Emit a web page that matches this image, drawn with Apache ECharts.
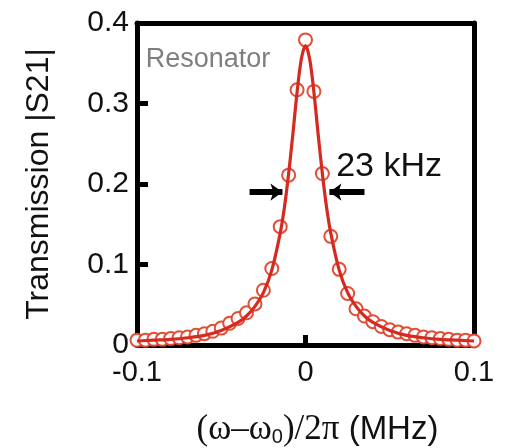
<!DOCTYPE html>
<html>
<head>
<meta charset="utf-8">
<script src="https://cdn.jsdelivr.net/npm/echarts@6/dist/echarts.min.js"></script>
<style>
  html, body { margin: 0; padding: 0; background: #fff; }
  #chart { width: 506px; height: 448px; }
</style>
</head>
<body>
<div id="chart"></div>
<script>
// Measured transmission of the resonator, detuning in MHz (5 kHz steps)
const detuning = [
  -0.100, -0.095, -0.090, -0.085, -0.080, -0.075, -0.070, -0.065, -0.060, -0.055,
  -0.050, -0.045, -0.040, -0.035, -0.030, -0.025, -0.020, -0.015, -0.010, -0.005,
   0.000,
   0.005,  0.010,  0.015,  0.020,  0.025,  0.030,  0.035,  0.040,  0.045,  0.050,
   0.055,  0.060,  0.065,  0.070,  0.075,  0.080,  0.085,  0.090,  0.095,  0.100
];
const measured = [
  0.006, 0.006, 0.007, 0.007, 0.008, 0.009, 0.010, 0.012, 0.014, 0.017,
  0.021, 0.027, 0.033, 0.040, 0.051, 0.068, 0.095, 0.147, 0.211, 0.317,
  0.379,
  0.315, 0.213, 0.135, 0.094, 0.064, 0.045, 0.036, 0.029, 0.023, 0.019,
  0.016, 0.014, 0.012, 0.010, 0.009, 0.008, 0.007, 0.006, 0.006, 0.005
];

// Lorentzian fit curve
const fitDetuning = [
  -0.100, -0.090, -0.080, -0.070, -0.060, -0.050, -0.040, -0.035, -0.030, -0.025,
  -0.020, -0.015, -0.0125, -0.010, -0.0075, -0.005, -0.0025, 0.000,
   0.0025, 0.005, 0.0075, 0.010, 0.0125, 0.015, 0.020, 0.025, 0.030, 0.035,
   0.040, 0.050, 0.060, 0.070, 0.080, 0.090, 0.100
];
const fitValues = [
  0.005, 0.006, 0.007, 0.009, 0.012, 0.018, 0.028, 0.036, 0.048, 0.065,
  0.093, 0.139, 0.171, 0.213, 0.262, 0.314, 0.355, 0.372,
  0.355, 0.314, 0.262, 0.213, 0.171, 0.139, 0.093, 0.065, 0.048, 0.036,
  0.028, 0.018, 0.012, 0.009, 0.007, 0.006, 0.005
];

// Tick labels
const xTickLabels = { '-0.1': '-0.1', '0': '0', '0.1': '0.1' };
const yTickLabels = ['0', '0.1', '0.2', '0.3', '0.4'];

// Linewidth markers (FWHM arrows) and annotations
const widthLevel = 0.19;
const leftArrow = [-0.0332, -0.0137];
const rightArrow = [0.0350, 0.0142];
const widthText = '23 kHz';
const widthTextAt = [0.0182, 0.222];
const titleText = 'Resonator';
const titleTextAt = [-0.0948, 0.354];

const SANS = '"Liberation Sans", Arial, sans-serif';
const SERIF = '"Liberation Serif", "Times New Roman", serif';

const chart = echarts.init(document.getElementById('chart'), null, { renderer: 'canvas' });

const frameLine = { show: true, onZero: false, lineStyle: { color: '#000', width: 5 } };

chart.setOption({
  animation: false,
  backgroundColor: '#fff',
  grid: { left: 137, right: 32, top: 23, bottom: 103, containLabel: false, outerBoundsMode: 'none' },
  xAxis: [
    {
      type: 'value', position: 'bottom', min: -0.1, max: 0.1, interval: 0.1,
      axisLine: frameLine,
      axisTick: { show: true, inside: true, length: 10, lineStyle: { color: '#000', width: 5 } },
      splitLine: { show: false },
      axisLabel: {
        margin: 13, color: '#111', fontFamily: SANS, fontSize: 29,
        formatter: v => xTickLabels[String(Math.round(v * 10) / 10)] ?? ''
      },
      name: '{s|(ω–ω}{sub|0}{s|)/2π}{a| (MHz)}',
      nameLocation: 'middle', nameGap: 58,
      nameTextStyle: {
        padding: [0, 0, 0, 24],
        rich: {
          s: { fontFamily: SERIF, fontSize: 35, color: '#111', lineHeight: 36 },
          sub: { fontFamily: SANS, fontSize: 20, color: '#111', lineHeight: 21, padding: [36, 0, 0, 0], verticalAlign: 'bottom' },
          a: { fontFamily: SANS, fontSize: 33, color: '#111', lineHeight: 36 }
        }
      }
    },
    {
      type: 'value', position: 'top', min: -0.1, max: 0.1,
      axisLine: frameLine, axisTick: { show: false }, axisLabel: { show: false }, splitLine: { show: false }
    }
  ],
  yAxis: [
    {
      type: 'value', position: 'left', min: 0, max: 0.4, interval: 0.1,
      axisLine: frameLine,
      axisTick: { show: true, inside: true, length: 11, lineStyle: { color: '#000', width: 5 } },
      splitLine: { show: false },
      axisLabel: {
        margin: 8, color: '#111', fontFamily: SANS, fontSize: 30,
        formatter: v => yTickLabels[Math.round(v * 10)] ?? ''
      },
      name: 'Transmission |S21|',
      nameLocation: 'middle', nameRotate: 90, nameGap: 82,
      nameTextStyle: { fontFamily: SANS, fontSize: 32, color: '#111' }
    },
    {
      type: 'value', position: 'right', min: 0, max: 0.4,
      axisLine: frameLine, axisTick: { show: false }, axisLabel: { show: false }, splitLine: { show: false }
    }
  ],
  series: [
    {
      type: 'scatter',
      data: detuning.map((x, i) => [x, measured[i]]),
      symbol: 'emptyCircle', symbolSize: 13, clip: false,
      itemStyle: { color: '#e0452c', borderColor: '#e0452c', borderWidth: 1.6, opacity: 0.95 },
      z: 3
    },
    {
      type: 'line',
      data: fitDetuning.map((x, i) => [x, fitValues[i]]),
      smooth: 0.3, showSymbol: false, clip: false,
      lineStyle: { color: '#d42a1f', width: 3.2 },
      z: 4,
      markLine: {
        silent: true, animation: false,
        symbol: ['none', 'arrow'], symbolSize: [13, 12],
        lineStyle: { color: '#000', width: 6, type: 'solid' },
        label: { show: false },
        data: [
          [{ coord: [leftArrow[0], widthLevel] }, { coord: [leftArrow[1], widthLevel] }],
          [{ coord: [rightArrow[0], widthLevel] }, { coord: [rightArrow[1], widthLevel] }]
        ]
      },
      markPoint: {
        silent: true, animation: false,
        symbol: 'circle', symbolSize: 0,
        data: [
          {
            coord: widthTextAt,
            label: { show: true, position: 'right', distance: 0, formatter: widthText,
                     fontFamily: SANS, fontSize: 34, color: '#111' }
          },
          {
            coord: titleTextAt,
            label: { show: true, position: 'right', distance: 0, formatter: titleText,
                     fontFamily: SANS, fontSize: 27, color: '#7f7f7f' }
          }
        ]
      }
    }
  ]
});
</script>
</body>
</html>
